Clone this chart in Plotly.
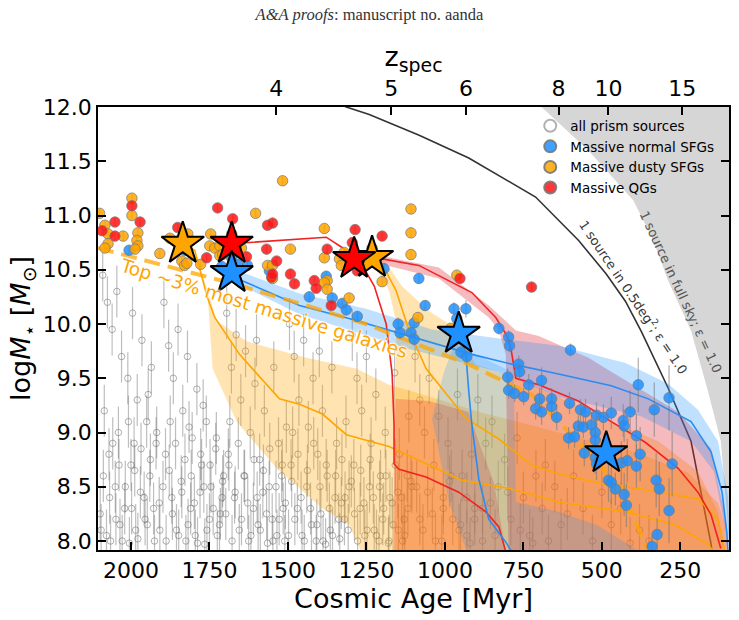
import plotly.graph_objects as go

# ---------------- data ----------------
# redshift ticks on the top axis (value -> cosmic age in Myr)
z_labels = ["4", "5", "6", "8", "10", "15"]
z_ages = [1537, 1171, 933, 638, 479, 244]
age_ticks = [2000, 1750, 1500, 1250, 1000, 750, 500, 250]

# number-density limits
curve05_age = [1336, 1314, 1241, 1082, 924, 711, 574, 486, 425, 374, 289, 216, 152, 146]
curve05_mass = [12.03, 12.0, 11.93, 11.74, 11.53, 11.17, 10.77, 10.46, 10.21, 9.93, 9.41, 8.92, 7.97, 7.81]
sky_age = [717, 692, 543, 400, 336, 289, 216, 162, 121, 105, 95, 89]
sky_mass = [12.06, 12.0, 11.60, 11.14, 10.77, 10.40, 9.94, 9.38, 8.92, 8.39, 8.08, 7.81]

# "Top ~3%" dashed line
top3_age = [2105, 1686, 1463, 1251, 1060, 933, 724, 638, 511, 406, 352]
top3_mass = [10.70, 10.38, 10.19, 10.00, 9.78, 9.64, 9.35, 9.10, 8.73, 8.27, 7.90]

# all prism sources
gray_age = [2090, 2075, 2060, 2045, 2030, 2010, 1995, 1980, 1965, 1950, 1935, 1920, 2085, 2070, 2050, 2040, 2020, 2000, 1985, 1970, 1955, 1940, 1925, 1910, 2095, 2065, 2035, 2005, 1990, 1945,
            1895, 1880, 1865, 1850, 1835, 1820, 1805, 1790, 1775, 1760, 1745, 1730, 1715, 1705, 1890, 1870, 1855, 1840, 1825, 1810, 1795, 1780, 1765, 1750, 1725, 1710, 1875, 1815, 1770,
            1695, 1680, 1665, 1650, 1635, 1620, 1605, 1590, 1575, 1560, 1545, 1530, 1515, 1505, 1690, 1670, 1655, 1640, 1625, 1610, 1595, 1580, 1565, 1550, 1535, 1520, 1510, 1685, 1600,
            1495, 1480, 1465, 1450, 1435, 1420, 1405, 1390, 1375, 1360, 1345, 1330, 1315, 1305, 1490, 1470, 1455, 1440, 1425, 1410, 1395, 1380, 1365, 1350, 1335, 1320, 1485, 1400,
            1295, 1280, 1265, 1250, 1235, 1220, 1205, 1190, 1175, 1160, 1145, 1130, 1115, 1105, 1290, 1270, 1255, 1240, 1225, 1210, 1195, 1180, 1165, 1150, 1135, 1120,
            1095, 1080, 1065, 1050, 1035, 1020, 1005, 990, 975, 960, 945, 930, 915, 905, 1090, 1070, 1040, 1010, 985, 950, 920,
            895, 870, 850, 830, 810, 790, 770, 750, 730, 710, 690, 670, 650, 630, 880, 840, 800, 760, 720, 680, 610,
            590, 560, 530, 500, 470, 440, 410, 380, 350,
            2098, 2088, 2078, 2068, 2058, 2048, 2038, 2028, 2018, 2008, 1998, 1988, 1978, 1968, 1958, 1948, 1938, 1928, 1918, 1908,
            1898, 1888, 1878, 1868, 1858, 1848, 1838, 1828, 1818, 1808, 1798, 1788, 1778, 1768, 1758, 1748, 1738, 1728, 1718, 1708,
            1698, 1688, 1678, 1668, 1658, 1648, 1638, 1628, 1618, 1608, 1598, 1588, 1578, 1568, 1558, 1548, 1538, 1528, 1518, 1508,
            1498, 1488, 1478, 1468, 1458, 1448, 1438, 1428, 1418, 1408, 1398, 1388, 1378, 1368, 1358, 1348, 1338, 1328, 1318, 1308,
            1298, 1288, 1278, 1268, 1258, 1248, 1238, 1228, 1218, 1208, 1198, 1188, 1178, 1168, 1158, 1148, 1138, 1128, 1118, 1108,
            1080, 1055, 1030, 1005, 980, 955, 930, 905, 880, 855]
gray_mass = [10.45, 10.2, 9.95, 10.3, 9.7, 9.5, 10.1, 9.3, 9.85, 9.1, 9.6, 8.9, 9.2, 8.8, 8.5, 9.0, 8.3, 8.7, 8.1, 8.45, 8.2, 8.6, 8.0, 8.35, 8.1, 8.0, 8.15, 7.98, 8.9, 9.35,
             10.2, 9.8, 9.5, 9.95, 9.2, 9.7, 8.95, 9.4, 8.7, 9.1, 8.5, 8.85, 8.25, 8.6, 8.8, 8.4, 8.1, 8.55, 8.0, 8.3, 8.05, 8.45, 7.97, 8.2, 8.05, 8.4, 9.1, 9.05, 9.25,
             10.1, 9.6, 9.9, 9.3, 9.75, 9.0, 9.45, 8.75, 9.2, 8.5, 9.6, 8.9, 8.3, 9.05, 8.8, 8.4, 8.1, 8.6, 8.0, 8.3, 8.15, 8.45, 7.98, 8.2, 8.05, 8.6, 8.0, 9.1, 9.85,
             10.0, 9.7, 9.3, 9.85, 9.05, 9.5, 8.8, 9.2, 8.6, 9.6, 8.9, 8.35, 9.1, 8.5, 8.7, 8.3, 8.05, 8.5, 8.15, 8.0, 8.25, 7.97, 8.1, 8.4, 8.02, 8.2, 9.0, 9.75,
             9.9, 9.5, 9.2, 9.7, 8.9, 9.35, 8.6, 9.0, 8.4, 9.55, 8.8, 8.2, 9.15, 8.5, 8.7, 8.3, 8.05, 8.5, 8.1, 8.0, 8.3, 7.98, 8.15, 8.45, 8.0, 8.6,
             9.7, 9.3, 9.0, 9.5, 8.7, 9.15, 8.4, 8.9, 8.2, 9.35, 8.6, 8.05, 8.8, 8.3, 8.5, 8.1, 8.25, 8.0, 8.55, 8.15, 7.98,
             9.3, 8.9, 9.1, 8.5, 8.75, 8.2, 8.95, 8.4, 8.05, 8.6, 8.3, 8.0, 8.5, 8.15, 8.3, 8.05, 8.45, 8.1, 7.98, 8.7, 8.25,
             8.6, 8.3, 8.0, 8.45, 8.15, 8.3, 7.98, 8.1, 8.0,
             8.25, 8.6, 8.05, 8.4, 8.9, 8.2, 8.7, 8.0, 8.5, 9.1, 8.3, 8.65, 8.02, 8.85, 8.4, 8.15, 8.75, 8.3, 9.0, 8.1,
             8.5, 8.0, 8.65, 8.25, 8.9, 8.05, 8.45, 8.75, 8.15, 8.6, 8.35, 7.98, 8.8, 8.5, 8.1, 8.7, 8.3, 8.95, 8.15, 8.55,
             8.25, 8.7, 8.0, 8.45, 8.9, 8.2, 8.6, 8.35, 8.05, 8.75, 8.4, 8.1, 8.65, 8.25, 8.85, 8.0, 8.5, 8.2, 8.7, 8.35,
             8.05, 8.55, 8.2, 8.8, 8.4, 8.0, 8.65, 8.3, 8.9, 8.15, 8.5, 8.0, 8.7, 8.3, 8.05, 8.6, 8.2, 8.75, 8.4, 8.1,
             8.55, 8.25, 8.0, 8.65, 8.35, 8.1, 8.75, 8.4, 8.05, 8.5, 8.2, 8.6, 8.0, 8.35, 8.7, 8.1, 8.4, 8.05, 8.3, 8.55,
             8.2, 8.45, 8.0, 8.3, 8.6, 8.1, 8.4, 8.2, 8.0, 8.35]

# massive samples
blue_age = [2006, 1829, 1711, 1660, 1629, 1679, 1559, 1378, 1432, 1359, 1327, 1314, 1279, 1194, 1083, 1063, 1098, 1149, 1143, 1108,
            1098, 971, 933, 962, 949, 930, 828, 797, 794, 765, 762, 800, 797, 778, 733, 692, 749, 698, 660, 660,
            711, 692, 644, 600, 603, 568, 552, 517, 495, 470, 432, 410, 429, 575, 559, 533, 521, 521, 606, 587,
            384, 286, 333, 390, 556, 521, 517, 438, 419, 378, 390, 276, 479, 470, 457, 429, 422, 327, 317, 286, 324, 340]
blue_mass = [10.68, 10.68, 10.53, 10.55, 10.54, 10.61, 10.49, 10.44, 10.25, 10.24, 10.19, 10.13, 10.07, 10.51, 10.42, 10.17, 10.01, 10.00, 9.92, 9.92,
             9.86, 10.14, 10.14, 10.05, 9.74, 9.70, 9.96, 9.88, 9.80, 9.63, 9.56, 9.51, 9.39, 9.36, 9.44, 9.48, 9.33, 9.31, 9.31, 9.24,
             9.22, 9.19, 9.14, 9.76, 9.27, 9.21, 9.19, 9.16, 9.14, 9.18, 9.11, 9.19, 9.06, 9.06, 9.05, 9.07, 9.00, 8.93, 8.95, 8.96,
             9.44, 9.32, 9.21, 8.97, 8.81, 8.77, 8.71, 8.72, 8.74, 8.80, 8.69, 8.71, 8.56, 8.54, 8.48, 8.43, 8.33, 8.56, 8.48, 8.28, 8.06, 7.95]
blue_err = [0.04, 0.04, 0.04, 0.04, 0.04, 0.04, 0.04, 0.05, 0.05, 0.05, 0.05, 0.05, 0.05, 0.05, 0.05, 0.05, 0.06, 0.06, 0.06, 0.06,
            0.06, 0.06, 0.08, 0.06, 0.06, 0.06, 0.06, 0.06, 0.06, 0.08, 0.08, 0.08, 0.08, 0.08, 0.10, 0.12, 0.08, 0.10, 0.10, 0.10,
            0.10, 0.12, 0.12, 0.06, 0.10, 0.10, 0.12, 0.12, 0.12, 0.15, 0.15, 0.20, 0.15, 0.10, 0.10, 0.12, 0.12, 0.15, 0.10, 0.10,
            0.25, 0.30, 0.25, 0.20, 0.12, 0.15, 0.15, 0.20, 0.20, 0.25, 0.20, 0.30, 0.20, 0.20, 0.15, 0.20, 0.20, 0.25, 0.25, 0.30, 0.15, 0.10]
orange_age = [2100, 1997, 1997, 1978, 1981, 1978, 1987, 2083, 2073, 2025, 2073, 2083, 1908, 1819, 1876, 1838, 1829, 1778, 1746, 1749,
              1733, 1717, 1717, 1679, 1603, 1565, 1686, 1517, 1384, 1492, 1384, 1321, 1336, 1330, 1232, 1108, 1108, 1108, 1200, 1549,
              1549, 1375, 1384, 1375, 1305, 962, 981, 1086, 1822, 1648, 1708]
orange_mass = [11.02, 11.16, 11.0, 10.84, 10.77, 10.72, 10.69, 10.91, 10.83, 10.81, 10.74, 10.70, 10.65, 10.83, 10.79, 10.58, 10.54, 10.55, 10.83, 10.72,
               10.70, 10.72, 10.63, 10.83, 11.02, 10.54, 10.47, 11.32, 10.88, 10.69, 10.61, 10.66, 10.60, 10.54, 10.70, 11.06, 10.84, 10.64, 10.39, 10.54,
               10.42, 10.40, 10.38, 10.32, 10.24, 10.45, 9.96, 10.06, 10.56, 10.70, 10.64]
red_age = [1997, 1971, 2051, 2092, 2051, 1851, 1759, 1724, 1676, 1632, 1565, 1568, 1552, 1549, 1286, 1295, 1279, 1200, 1375, 1536,
           1549, 1492, 1479, 1416, 1410, 1362, 952, 724]
red_mass = [11.09, 10.94, 10.94, 10.86, 10.81, 10.89, 10.61, 11.07, 10.97, 10.62, 10.91, 10.69, 10.43, 10.93, 10.87, 10.75, 10.49, 10.81, 10.69, 10.58,
            10.46, 10.46, 10.37, 10.40, 10.33, 10.17, 10.42, 10.34]

# highlighted objects (stars)
star_blue_age = [1679, 956, 486]
star_blue_mass = [10.47, 9.91, 8.81]
star_orange_age = [1835, 1232]
star_orange_mass = [10.74, 10.61]
star_red_age = [1679, 1289]
star_red_mass = [10.74, 10.60]

# mass-assembly tracks: centre lines
trkA_age = [1835, 1797, 1756, 1733, 1654, 1527, 1463, 1390, 1314, 1178, 946, 787, 638, 425, 267, 162, 143]
trkA_mass = [10.74, 10.68, 10.24, 10.06, 9.72, 9.31, 9.26, 9.17, 8.98, 8.87, 8.56, 8.48, 8.36, 8.27, 8.15, 7.97, 7.90]
trkF_age = [1232, 1194, 1156, 1114, 1060, 1019, 933, 828, 724, 638, 502, 375, 194, 130, 108]
trkF_mass = [10.61, 10.52, 10.31, 9.94, 9.59, 9.44, 9.13, 8.94, 8.70, 8.62, 8.53, 8.48, 8.39, 8.20, 7.90]
trkB_age = [1679, 1527, 1378, 1330, 1289, 1257, 1225, 1187, 1168, 1162, 1162, 1146, 1060, 956, 870, 828, 806]
trkB_mass = [10.74, 10.77, 10.80, 10.71, 10.62, 10.51, 10.35, 10.0, 9.54, 9.07, 8.71, 8.66, 8.59, 8.45, 8.27, 8.13, 7.90]
trkC_age = [1232, 1200, 1083, 987, 914, 838, 806, 790, 774, 701, 575, 470, 362, 257, 194, 152, 121]
trkC_mass = [10.60, 10.60, 10.54, 10.40, 10.29, 10.06, 9.91, 9.78, 9.50, 9.44, 9.29, 9.10, 8.91, 8.67, 8.45, 8.24, 7.93]
trkD_age = [1679, 1463, 1305, 1083, 914, 787, 638, 470, 352, 216, 152, 117, 102, 98]
trkD_mass = [10.44, 10.17, 10.05, 9.86, 9.72, 9.63, 9.54, 9.43, 9.31, 9.10, 8.82, 8.45, 8.08, 7.90]
trkE_age = [956, 933, 924, 914, 892, 860, 806, 787]
trkE_mass = [9.91, 9.72, 9.38, 9.07, 8.57, 8.20, 7.99, 7.90]

# mass-assembly tracks: uncertainty envelopes (upper edge, then lower edge back)
bandA_age = [1835, 1781, 1756, 1727, 1632, 1441, 1283, 1178, 1105, 890, 638, 384, 225, 130, 98, 98, 1251, 1305, 1390, 1536, 1663, 1740, 1756, 1797]
bandA_mass = [10.74, 10.53, 10.31, 10.03, 9.84, 9.69, 9.59, 9.44, 9.38, 9.19, 9.0, 8.81, 8.63, 8.35, 8.07, 7.8, 7.8, 8.15, 8.30, 8.67, 9.10, 9.59, 10.28, 10.64]
bandF_age = [1232, 1194, 1137, 1051, 987, 902, 765, 638, 470, 320, 194, 130, 108, 108, 1162, 1156, 1156, 1178, 1232]
bandF_mass = [10.63, 10.59, 10.35, 10.12, 10.0, 9.63, 9.50, 9.33, 9.10, 8.92, 8.64, 8.27, 7.90, 7.8, 7.8, 9.29, 10.03, 10.31, 10.57]
bandB_age = [1162, 1051, 924, 892, 844, 806, 806, 1162]
bandB_mass = [9.31, 9.29, 9.19, 8.91, 8.54, 7.90, 7.80, 7.80]
bandC_age = [1226, 1019, 860, 774, 701, 543, 470, 257, 152, 108, 98, 98, 797, 806, 828, 860, 1019, 1226]
bandC_mass = [10.64, 10.52, 10.17, 9.94, 9.89, 9.69, 9.56, 9.19, 8.85, 8.24, 7.90, 7.80, 7.80, 9.72, 9.94, 10.06, 10.42, 10.57]
bandD_age = [1679, 1463, 1251, 1041, 838, 638, 425, 289, 194, 130, 98, 92, 92, 111, 143, 216, 375, 638, 828, 1114, 1463, 1679]
bandD_mass = [10.51, 10.28, 10.14, 9.95, 9.87, 9.80, 9.64, 9.45, 9.21, 8.92, 8.40, 7.90, 7.90, 8.18, 8.64, 8.92, 9.15, 9.33, 9.56, 9.77, 10.09, 10.40]
bandE_age = [956, 924, 781, 774, 638, 511, 352, 924, 987, 1041, 1003]
bandE_mass = [9.91, 9.75, 9.55, 8.36, 8.27, 8.14, 7.85, 7.85, 8.36, 9.13, 9.56]

ORANGE = "#FFA500"
RED = "#F22222"
BLUE = "#2A8CF0"

fig = go.Figure()

# full-sky shaded region
fig.add_trace(go.Scatter(x=sky_age + [40, 40], y=sky_mass + [7.0, 12.6], fill="toself",
                         fillcolor="rgb(214,214,214)", line=dict(width=0), mode="lines",
                         hoverinfo="skip", showlegend=False))
# 0.5 deg^2 curve
fig.add_trace(go.Scatter(x=curve05_age, y=curve05_mass, mode="lines",
                         line=dict(color="#333333", width=1.6), hoverinfo="skip", showlegend=False))

# all prism sources
fig.add_trace(go.Scatter(x=gray_age, y=gray_mass, mode="markers", name="all prism sources",
                         marker=dict(symbol="circle-open", size=6.5, color="rgba(100,100,100,0.5)",
                                     line=dict(width=1)),
                         error_y=dict(type="constant", value=0.24, color="rgba(100,100,100,0.42)",
                                      thickness=1.2, width=0)))

def band(ages, masses, color):
    fig.add_trace(go.Scatter(x=ages, y=masses, fill="toself", fillcolor=color, line=dict(width=0),
                             mode="lines", hoverinfo="skip", showlegend=False))

def track(ages, masses, color, w=1.6):
    fig.add_trace(go.Scatter(x=ages, y=masses, mode="lines", line=dict(color=color, width=w),
                             hoverinfo="skip", showlegend=False))

band(bandA_age, bandA_mass, "rgba(255,165,0,0.30)")
band(bandF_age, bandF_mass, "rgba(255,165,0,0.30)")
band(bandB_age, bandB_mass, "rgba(235,40,40,0.26)")
band(bandC_age, bandC_mass, "rgba(225,40,50,0.32)")
band(bandE_age, bandE_mass, "rgba(30,144,255,0.22)")
band(bandD_age, bandD_mass, "rgba(30,144,255,0.28)")

track(trkA_age, trkA_mass, ORANGE)
track(trkF_age, trkF_mass, ORANGE)
track(trkB_age, trkB_mass, RED)
track(trkC_age, trkC_mass, RED)
track(trkD_age, trkD_mass, BLUE)
track(trkE_age, trkE_mass, BLUE)

# top 3% dashed line
fig.add_trace(go.Scatter(x=top3_age, y=top3_mass, mode="lines",
                         line=dict(color="rgba(255,165,0,0.75)", width=4, dash="16px,8px"),
                         hoverinfo="skip", showlegend=False))

pt_line = dict(color="rgba(120,120,120,0.9)", width=0.8)
fig.add_trace(go.Scatter(x=blue_age, y=blue_mass, mode="markers", name="Massive normal SFGs",
                         marker=dict(size=10.5, color="rgba(30,144,255,0.85)", line=pt_line),
                         error_y=dict(type="data", array=blue_err, color="rgba(120,120,120,0.6)",
                                      thickness=1.2, width=0)))
fig.add_trace(go.Scatter(x=orange_age, y=orange_mass, mode="markers", name="Massive dusty SFGs",
                         marker=dict(size=10.5, color="rgba(255,165,0,0.85)", line=pt_line),
                         error_y=dict(type="constant", value=0.04, color="rgba(120,120,120,0.6)",
                                      thickness=1.2, width=0)))
fig.add_trace(go.Scatter(x=red_age, y=red_mass, mode="markers", name="Massive QGs",
                         marker=dict(size=10.5, color="rgba(255,20,20,0.85)", line=pt_line),
                         error_y=dict(type="constant", value=0.04, color="rgba(120,120,120,0.6)",
                                      thickness=1.2, width=0)))

for a, m, c in [(star_orange_age, star_orange_mass, "#FFA500"),
                (star_red_age, star_red_mass, "#FF0000"),
                (star_blue_age, star_blue_mass, "#1E90FF")]:
    fig.add_trace(go.Scatter(x=a, y=m, mode="markers", showlegend=False, hoverinfo="skip",
                             marker=dict(symbol="star", size=32, color=c,
                                         line=dict(color="black", width=2))))

# invisible trace carrying the top axis
fig.add_trace(go.Scatter(x=[1000], y=[10], xaxis="x2", mode="markers",
                         marker=dict(opacity=0), showlegend=False, hoverinfo="skip"))

fig.add_annotation(x=1575, y=10.14, xref="x", yref="y", text="Top ∼3% most massive galaxies",
                   showarrow=False, textangle=17,
                   font=dict(family="DejaVu Sans", size=18.5, color="#FFA500",
                             shadow="0 0 2px white, 0 0 3px white, 0 0 3px white"))
fig.add_annotation(x=397, y=10.25, xref="x", yref="y",
                   text="1 source in 0.5deg<sup>2</sup>; ε = 1.0",
                   showarrow=False, textangle=56,
                   font=dict(family="DejaVu Sans", size=13, color="#3a3a3a"))
fig.add_annotation(x=248, y=10.29, xref="x", yref="y",
                   text="1 source in full sky; ε = 1.0",
                   showarrow=False, textangle=65,
                   font=dict(family="DejaVu Sans", size=13, color="#555555"))

axis_common = dict(showline=True, linecolor="black", linewidth=1.5, ticks="inside",
                   ticklen=8, tickwidth=1.5, tickcolor="black", showgrid=False, zeroline=False)

fig.update_layout(
    width=739, height=620,
    margin=dict(l=98, r=8, t=107, b=70),
    paper_bgcolor="white", plot_bgcolor="white",
    font=dict(family="DejaVu Sans", color="black"),
    title=dict(text="<i>A&amp;A proofs</i>: manuscript no. aanda", x=0.5, xref="container",
               y=1 - 14 / 620, yref="container", xanchor="center", yanchor="middle",
               font=dict(family="Liberation Serif", size=16.5, color="#333333")),
    xaxis=dict(range=[2105, 95], tickvals=age_ticks, ticktext=[str(v) for v in age_ticks],
               tickfont=dict(size=22), mirror=True,
               title=dict(text="Cosmic Age [Myr]", font=dict(size=27), standoff=4),
               **axis_common),
    xaxis2=dict(range=[2105, 95], overlaying="x", side="top", anchor="y",
                tickvals=z_ages, ticktext=z_labels, tickfont=dict(size=22),
                title=dict(text="z<sub>spec</sub>", font=dict(size=27), standoff=2),
                **axis_common),
    yaxis=dict(range=[7.917, 12.0], dtick=0.5, tick0=8.0, tickformat=".1f", tickfont=dict(size=22),
               mirror="ticks",
               title=dict(text="log<i>M</i><sub>⋆</sub> [<i>M</i><sub>⊙</sub>]", font=dict(size=27), standoff=4),
               **axis_common),
    legend=dict(x=0.685, y=0.992, xanchor="left", yanchor="top", bgcolor="rgba(0,0,0,0)",
                font=dict(size=13.5), tracegroupgap=0, itemsizing="constant"),
)

fig.write_html("out.html")
